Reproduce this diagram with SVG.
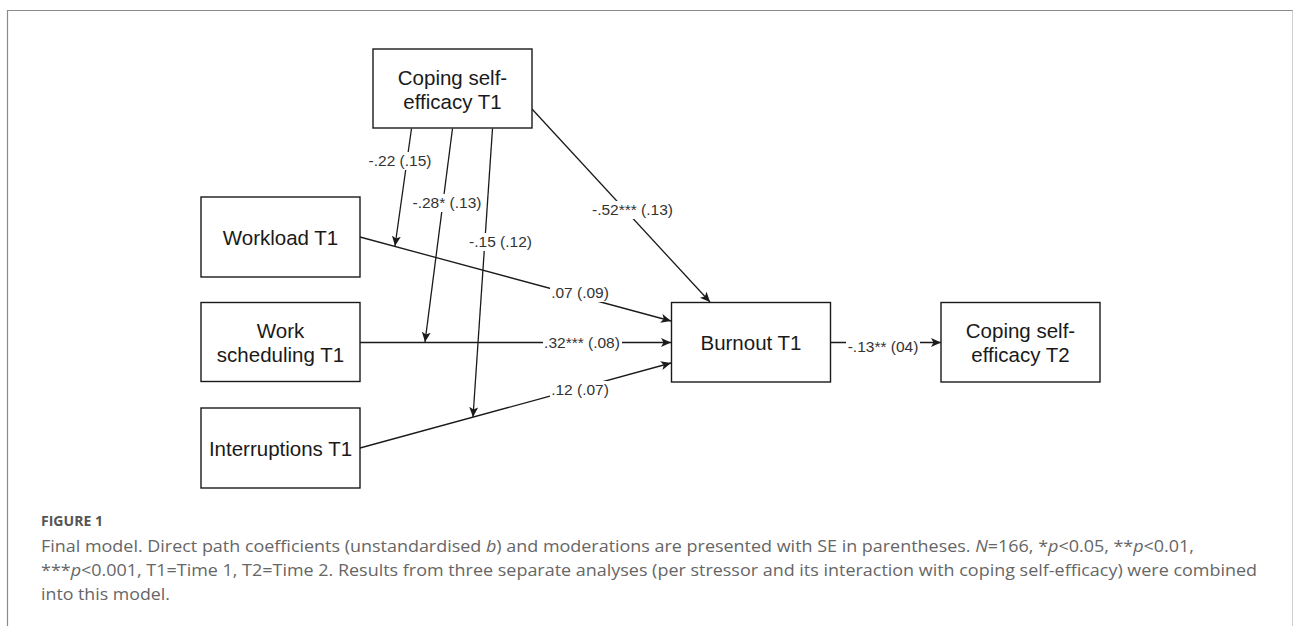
<svg xmlns="http://www.w3.org/2000/svg" width="1293" height="626" viewBox="0 0 1293 626">
<style>
.box{fill:#fff;stroke:#1a1a1a;stroke-width:1.4}
.nt{font-family:"Liberation Sans",Arial,sans-serif;font-size:20.5px;fill:#1a1a1a;text-anchor:middle}
.edge{fill:none;stroke:#1a1a1a;stroke-width:1.3}
.lbl{font-family:"Liberation Sans",Arial,sans-serif;font-size:15.5px;fill:#333;text-anchor:middle}
.lbg{fill:#fff}
.cap{font-family:"Open Sans","Noto Sans",sans-serif;font-size:15.5px;fill:#666}
.frame{stroke:#8a8a8a;stroke-width:1.2;fill:none}
</style>
<defs>
<marker id="arr" markerUnits="userSpaceOnUse" markerWidth="12" markerHeight="10" refX="10" refY="4.5" orient="auto">
<path d="M0,0 L10,4.5 L0,9 L2.5,4.5 Z" fill="#1a1a1a"/>
</marker>
</defs>
<rect width="1293" height="626" fill="#fff"/>
<g id="frame">
<path class="frame" d="M7.5,626 L7.5,10.5 L1293,10.5"/>
<path d="M1292.5,10.5 L1292.5,626" stroke="#cfcfcf" stroke-width="1"/>
</g>
<g id="connectors">
<line class="edge" x1="532" y1="109" x2="710" y2="302" marker-end="url(#arr)"/>
<line class="edge" x1="360" y1="237" x2="671" y2="321" marker-end="url(#arr)"/>
<line class="edge" x1="360" y1="342.5" x2="671" y2="342.5" marker-end="url(#arr)"/>
<line class="edge" x1="360" y1="448" x2="671" y2="363" marker-end="url(#arr)"/>
<line class="edge" x1="411.5" y1="128.5" x2="395" y2="246" marker-end="url(#arr)"/>
<line class="edge" x1="452.5" y1="128.5" x2="425" y2="342" marker-end="url(#arr)"/>
<line class="edge" x1="492.5" y1="128.5" x2="473" y2="417" marker-end="url(#arr)"/>
<line class="edge" x1="830" y1="342.5" x2="941" y2="342.5" marker-end="url(#arr)"/>
<g id="labels">
<rect class="lbg" x="367" y="152" width="66" height="18"/>
<text class="lbl" x="400" y="166">-.22 (.15)</text>
<rect class="lbg" x="411" y="194" width="72" height="18"/>
<text class="lbl" x="447" y="208">-.28* (.13)</text>
<rect class="lbg" x="468" y="233" width="65" height="18"/>
<text class="lbl" x="500.5" y="247">-.15 (.12)</text>
<rect class="lbg" x="590" y="201" width="85" height="18"/>
<text class="lbl" x="632.5" y="215">-.52*** (.13)</text>
<rect class="lbg" x="550" y="284" width="60" height="18"/>
<text class="lbl" x="580" y="298">.07 (.09)</text>
<rect class="lbg" x="543" y="334" width="79" height="18"/>
<text class="lbl" x="582" y="348">.32*** (.08)</text>
<rect class="lbg" x="550" y="381" width="60" height="18"/>
<text class="lbl" x="580" y="395">.12 (.07)</text>
<rect class="lbg" x="846" y="338" width="74" height="18"/>
<text class="lbl" x="883" y="352">-.13** (04)</text>
</g>
</g>
<g id="coping-t1">
<rect class="box" x="373" y="49" width="159" height="79"/>
<text class="nt" x="452.5" y="84.5">Coping self-</text>
<text class="nt" x="452.5" y="109">efficacy T1</text>
</g>
<g id="workload">
<rect class="box" x="201" y="197" width="159" height="80"/>
<text class="nt" x="280.5" y="245">Workload T1</text>
</g>
<g id="work-scheduling">
<rect class="box" x="201" y="302.5" width="159" height="79"/>
<text class="nt" x="280.5" y="338">Work</text>
<text class="nt" x="280.5" y="362">scheduling T1</text>
</g>
<g id="interruptions">
<rect class="box" x="201" y="408" width="159" height="80"/>
<text class="nt" x="280.5" y="456">Interruptions T1</text>
</g>
<g id="burnout">
<rect class="box" x="671.5" y="302.5" width="159" height="79.5"/>
<text class="nt" x="751" y="350">Burnout T1</text>
</g>
<g id="coping-t2">
<rect class="box" x="941" y="302.5" width="159" height="79.5"/>
<text class="nt" x="1020.5" y="338">Coping self-</text>
<text class="nt" x="1020.5" y="362">efficacy T2</text>
</g>
<g id="caption">
<text class="cap" x="41" y="526" textLength="62" lengthAdjust="spacingAndGlyphs" style="font-size:13.5px;font-weight:700;fill:#555">FIGURE 1</text>
<text class="cap" x="41" y="552" textLength="1153" lengthAdjust="spacingAndGlyphs">Final model. Direct path coefficients (unstandardised <tspan font-style="italic">b</tspan>) and moderations are presented with SE in parentheses. <tspan font-style="italic">N</tspan>=166, *<tspan font-style="italic">p</tspan>&lt;0.05, **<tspan font-style="italic">p</tspan>&lt;0.01,</text>
<text class="cap" x="41" y="576" textLength="1216" lengthAdjust="spacingAndGlyphs">***<tspan font-style="italic">p</tspan>&lt;0.001, T1=Time 1, T2=Time 2. Results from three separate analyses (per stressor and its interaction with coping self-efficacy) were combined</text>
<text class="cap" x="41" y="600" textLength="129" lengthAdjust="spacingAndGlyphs">into this model.</text>
</g>
</svg>
